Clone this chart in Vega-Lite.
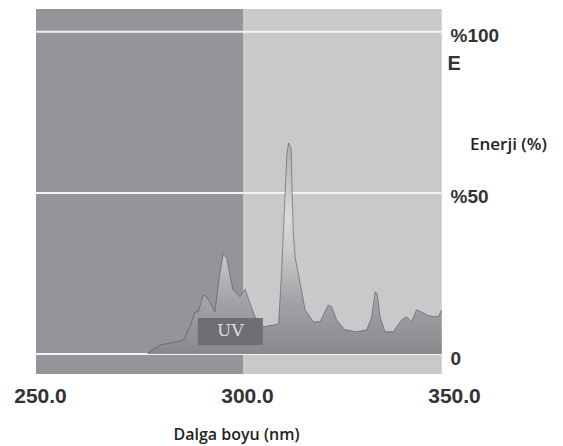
{
  "$schema": "https://vega.github.io/schema/vega-lite/v6.json",
  "width": 414,
  "height": 365,
  "autosize": {"type": "none"},
  "padding": {"left": 36, "top": 9, "right": 113, "bottom": 72},
  "background": "white",
  "config": {"view": {"stroke": null}},
  "title": {
    "text": "Enerji (%)",
    "anchor": "start",
    "frame": "group",
    "orient": "top",
    "offset": 0,
    "dx": 434,
    "dy": 158,
    "baseline": "alphabetic",
    "font": "Open Sans",
    "fontWeight": 600,
    "fontSize": 17,
    "color": "#222222"
  },
  "datasets": {
    "zones": [
      {"zone": "dark", "x0": 250, "x1": 300},
      {"zone": "light", "x0": 300, "x1": 348}
    ],
    "levels": [
      {"level": 0, "x0": 250, "x1": 348},
      {"level": 50, "x0": 250, "x1": 348},
      {"level": 100, "x0": 250, "x1": 348}
    ],
    "spectrum": [
      {"nm": 277.0, "e": 0.3},
      {"nm": 280.0, "e": 2.8},
      {"nm": 284.0, "e": 3.8},
      {"nm": 285.6, "e": 4.3},
      {"nm": 287.2, "e": 8.5},
      {"nm": 288.4, "e": 13.1},
      {"nm": 289.2, "e": 13.1},
      {"nm": 290.4, "e": 18.3},
      {"nm": 291.2, "e": 17.8},
      {"nm": 292.4, "e": 15.2},
      {"nm": 293.2, "e": 13.1},
      {"nm": 294.4, "e": 25.0},
      {"nm": 295.2, "e": 31.0},
      {"nm": 296.1, "e": 29.7},
      {"nm": 296.9, "e": 24.0},
      {"nm": 297.6, "e": 19.9},
      {"nm": 298.5, "e": 18.8},
      {"nm": 299.3, "e": 17.8},
      {"nm": 300.5, "e": 20.1},
      {"nm": 301.7, "e": 15.7},
      {"nm": 302.9, "e": 11.6},
      {"nm": 304.9, "e": 8.5},
      {"nm": 307.3, "e": 9.0},
      {"nm": 308.6, "e": 9.5},
      {"nm": 309.3, "e": 25.0},
      {"nm": 310.0, "e": 45.0},
      {"nm": 310.6, "e": 62.0},
      {"nm": 311.0, "e": 65.5},
      {"nm": 311.6, "e": 64.0},
      {"nm": 312.1, "e": 38.5},
      {"nm": 312.6, "e": 30.0},
      {"nm": 313.8, "e": 22.0},
      {"nm": 315.0, "e": 13.7},
      {"nm": 317.0, "e": 10.0},
      {"nm": 318.6, "e": 10.0},
      {"nm": 320.6, "e": 15.2},
      {"nm": 321.4, "e": 14.7},
      {"nm": 322.6, "e": 10.6},
      {"nm": 324.6, "e": 7.5},
      {"nm": 327.5, "e": 6.9},
      {"nm": 329.9, "e": 7.5},
      {"nm": 331.1, "e": 11.6},
      {"nm": 331.9, "e": 19.3},
      {"nm": 332.4, "e": 18.8},
      {"nm": 333.1, "e": 11.6},
      {"nm": 334.3, "e": 6.9},
      {"nm": 336.3, "e": 6.9},
      {"nm": 338.3, "e": 10.6},
      {"nm": 339.5, "e": 11.6},
      {"nm": 340.7, "e": 10.0},
      {"nm": 341.9, "e": 13.7},
      {"nm": 343.1, "e": 13.1},
      {"nm": 344.4, "e": 12.1},
      {"nm": 346.0, "e": 11.6},
      {"nm": 347.2, "e": 11.6},
      {"nm": 348.0, "e": 13.7}
    ],
    "labels": [{"label": "UV", "x0": 289.1, "x1": 304.8, "y0": 2.8, "y1": 11.2, "xm": 296.95, "ym": 7.0}]
  },
  "layer": [
    {
      "data": {"name": "zones"},
      "mark": {"type": "rect"},
      "encoding": {
        "x": {
          "field": "x0", "type": "quantitative",
          "scale": {"domain": [250, 350], "nice": false, "zero": false},
          "axis": {
            "values": [250, 300, 350],
            "format": ".1f",
            "domain": false,
            "ticks": false,
            "grid": false,
            "labelFlush": false,
            "labelFont": "Liberation Sans",
            "labelFontWeight": "bold",
            "labelFontSize": 21,
            "labelColor": "#333333",
            "labelPadding": 11,
            "labelOffset": 4,
            "title": "Dalga boyu (nm)",
            "titleFont": "Open Sans",
            "titleFontWeight": 600,
            "titleFontSize": 16,
            "titleColor": "#222222",
            "titleBaseline": "alphabetic",
            "titleX": 200,
            "titleY": 65
          }
        },
        "x2": {"field": "x1"},
        "color": {
          "field": "zone", "type": "nominal",
          "scale": {"domain": ["dark", "light"], "range": ["#949598", "#c8c9cb"]},
          "legend": null
        }
      }
    },
    {
      "data": {"name": "levels"},
      "mark": {"type": "rule", "color": "#f2f2f2", "strokeWidth": 2},
      "encoding": {
        "x": {"field": "x0", "type": "quantitative"},
        "x2": {"field": "x1"},
        "y": {
          "field": "level", "type": "quantitative",
          "scale": {"domain": [-6.2, 107.1], "nice": false, "zero": false},
          "axis": {
            "orient": "right",
            "values": [0, 50, 100],
            "labelExpr": "datum.value == 0 ? '0' : '%' + datum.value",
            "domain": false,
            "ticks": false,
            "grid": false,
            "labelAlign": "left",
            "labelBaseline": "middle",
            "labelPadding": 0,
            "labelOffset": 4,
            "labelFont": "Liberation Sans",
            "labelFontWeight": "bold",
            "labelFontSize": 19,
            "labelColor": "#333333",
            "title": "E",
            "titleAngle": 0,
            "titleAlign": "left",
            "titleBaseline": "alphabetic",
            "titleX": -3,
            "titleY": 60,
            "titleFont": "Liberation Sans",
            "titleFontWeight": "bold",
            "titleFontSize": 20,
            "titleColor": "#333333"
          }
        }
      }
    },
    {
      "data": {"name": "spectrum"},
      "mark": {
        "type": "area",
        "color": {
          "gradient": "linear",
          "x1": 0, "y1": 1, "x2": 0, "y2": 0,
          "stops": [
            {"offset": 0, "color": "#88898c"},
            {"offset": 0.25, "color": "#a2a3a6"},
            {"offset": 0.5, "color": "#cbcbcd"},
            {"offset": 0.65, "color": "#dadada"},
            {"offset": 1, "color": "#b0b0b2"}
          ]
        }
      },
      "encoding": {
        "x": {"field": "nm", "type": "quantitative"},
        "y": {"field": "e", "type": "quantitative"}
      }
    },
    {
      "data": {"name": "spectrum"},
      "mark": {"type": "line", "color": "#4a4a4c", "strokeWidth": 1, "opacity": 0.55},
      "encoding": {
        "x": {"field": "nm", "type": "quantitative"},
        "y": {"field": "e", "type": "quantitative"}
      }
    },
    {
      "data": {"name": "labels"},
      "mark": {"type": "rect", "color": "#6e6f72"},
      "encoding": {
        "x": {"field": "x0", "type": "quantitative"},
        "x2": {"field": "x1"},
        "y": {"field": "y0", "type": "quantitative"},
        "y2": {"field": "y1"}
      }
    },
    {
      "data": {"name": "labels"},
      "mark": {"type": "text", "font": "DejaVu Serif", "fontSize": 17, "color": "#dcdcdc", "baseline": "middle", "align": "center"},
      "encoding": {
        "x": {"field": "xm", "type": "quantitative"},
        "y": {"field": "ym", "type": "quantitative"},
        "text": {"field": "label"}
      }
    }
  ]
}
